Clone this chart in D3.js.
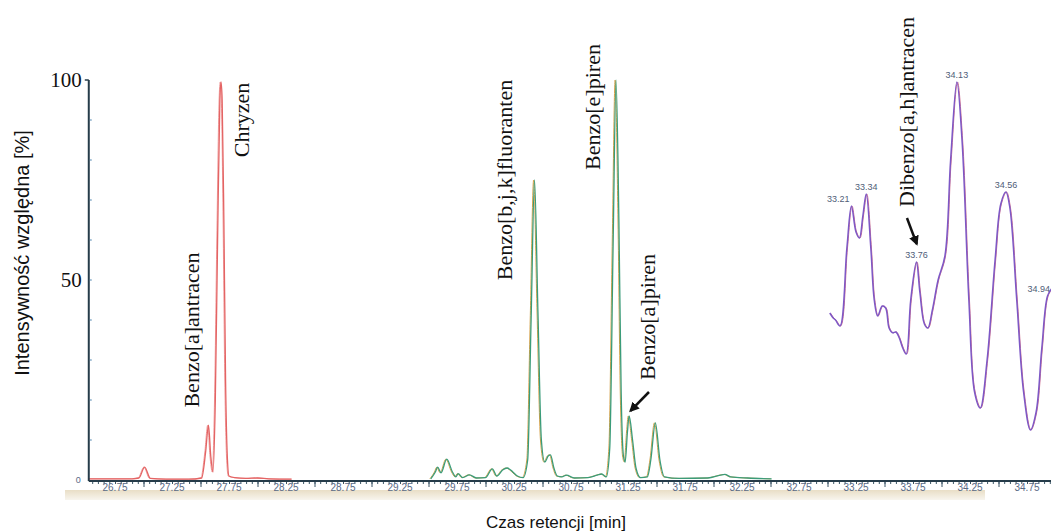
<!DOCTYPE html>
<html>
<head>
<meta charset="utf-8">
<script src="https://cdn.jsdelivr.net/npm/d3@7"></script>
<style>
  body { margin: 0; background: #fff; }
  svg { display: block; }
  .serif { font-family: "Liberation Serif", "Times New Roman", serif; fill: #111; }
  .sans { font-family: "Liberation Sans", Arial, sans-serif; }
</style>
</head>
<body>
<div id="chart"></div>
<script>
const width = 1051;
const height = 532;

// red trace (Benzo[a]antracen, Chryzen)
const redTime = [26.52, 26.9, 26.96, 27.01, 27.06, 27.2, 27.4, 27.51, 27.545, 27.57, 27.59, 27.61,
  27.63, 27.65, 27.67, 27.68, 27.69, 27.705, 27.72, 27.735, 27.75, 27.8, 27.9, 28.0, 28.1, 28.3];
const redValue = [0.3, 0.3, 0.5, 3.2, 0.4, 0.2, 0.2, 0.5, 7, 13.7, 6, 2,
  20, 60, 95, 99.5, 95, 65, 25, 6, 1, 0.6, 0.4, 0.5, 0.3, 0.2];

// green trace (benzofluoranthenes, benzopyrenes)
const greenTime = [29.52, 29.56, 29.58, 29.61, 29.66, 29.71, 29.74, 29.76, 29.8, 29.86, 29.92, 30.0,
  30.06, 30.1, 30.15, 30.19, 30.24, 30.28, 30.33, 30.37, 30.4, 30.43, 30.46, 30.49, 30.52, 30.55,
  30.57, 30.6, 30.63, 30.67, 30.71, 30.78, 30.9, 30.98, 31.02, 31.06, 31.09, 31.12, 31.145, 31.17,
  31.19, 31.21, 31.225, 31.245, 31.26, 31.29, 31.32, 31.36, 31.42, 31.45, 31.49, 31.53, 31.57,
  31.7, 31.95, 32.06, 32.1, 32.15, 32.3, 32.51];
const greenValue = [0.3, 2, 3.2, 1.8, 5.2, 2, 0.8, 1.6, 0.6, 1.3, 0.5, 0.6,
  2.8, 1.0, 2.5, 3.0, 2.0, 1.0, 0.6, 5, 40, 75, 42, 10, 4.5, 6,
  6.3, 3, 1, 0.8, 1.2, 0.5, 0.6, 1.2, 1.5, 0.8, 8, 60, 100, 65,
  22, 6, 4.5, 12, 16, 10, 3, 0.6, 0.8, 5, 14.3, 5, 0.8,
  0.4, 0.5, 1.2, 1.4, 0.8, 0.5, 0.3];

// purple inset (Dibenzo[a,h]antracen region, own relative scale)
const insetTime = [33.02, 33.05, 33.07, 33.11, 33.17, 33.21, 33.25, 33.28, 33.31, 33.34, 33.38, 33.41,
  33.44, 33.48, 33.51, 33.54, 33.57, 33.6, 33.63, 33.66, 33.69, 33.73, 33.78, 33.81, 33.85, 33.88,
  33.92, 33.97, 34.03, 34.08, 34.135, 34.18, 34.24, 34.29, 34.34, 34.4, 34.47, 34.52, 34.565, 34.6,
  34.66, 34.72, 34.78, 34.83, 34.88, 34.93, 34.97];
const insetValue = [41.75, 40.5, 40, 38.5, 58, 68.5, 62, 60.5, 66, 71.5, 58, 45,
  41, 43.5, 43, 38, 36.8, 37, 35.5, 33, 31.5, 45, 54.5, 47, 39, 38,
  42.5, 50, 56, 80, 99.5, 85, 45, 22, 18, 30, 55, 69, 72, 68,
  45, 22, 12.5, 17, 33, 46, 48];

const peakLabels = ["33.21", "33.34", "33.76", "34.13", "34.56", "34.94"];
const peakTime = [33.21, 33.34, 33.78, 34.135, 34.565, 34.93];

const xTickLabels = ["26.75", "27.25", "27.75", "28.25", "28.75", "29.25", "29.75", "30.25",
  "30.75", "31.25", "31.75", "32.25", "32.75", "33.25", "33.75", "34.25", "34.75"];

// compound names, anchored in (time, intensity) units
const compounds = ["Benzo[a]antracen", "Chryzen", "Benzo[b,j,k]fluoranten", "Benzo[e]piren",
  "Benzo[a]piren", "Dibenzo[a,h]antracen"];
const compoundTime = [27.425, 27.864, 30.17, 30.94, 31.425, 33.697];
const compoundLevel = [37.5, 90, 75, 93.25, 40.75, 92];

// arrows [from time, from level, to time, to level]
const arrows = [[31.434, 22, 31.272, 17.3], [33.697, 65.5, 33.783, 59]];

const x = d3.scaleLinear().domain([26.75, 34.75]).range([115, 1027]);
const y = d3.scaleLinear().domain([0, 100]).range([480, 80]);
const x0 = x(26.52);

const svg = d3.select("#chart").append("svg")
  .attr("width", width)
  .attr("height", height);

const defs = svg.append("defs");
const grad = defs.append("linearGradient").attr("id", "band")
  .attr("x1", 0).attr("x2", 0).attr("y1", 0).attr("y2", 1);
grad.append("stop").attr("offset", 0).attr("stop-color", "#e9dec6");
grad.append("stop").attr("offset", 1).attr("stop-color", "#f8f5ee");
defs.append("marker").attr("id", "head")
  .attr("viewBox", "0 0 10 10").attr("refX", 8).attr("refY", 5)
  .attr("markerWidth", 4).attr("markerHeight", 4).attr("orient", "auto")
  .append("path").attr("d", "M0,0L10,5L0,10Z").attr("fill", "#111");

// beige band under the time axis
svg.append("rect")
  .attr("x", 65).attr("y", 490)
  .attr("width", 920).attr("height", 10)
  .attr("fill", "url(#band)");

// traces
const line = (xs, ys) => d3.line()
  .x((d, i) => x(xs[i]))
  .y((d, i) => y(ys[i]))
  .curve(d3.curveMonotoneX)(xs);

svg.append("path").attr("d", line(redTime, redValue))
  .attr("fill", "none").attr("stroke", "#f0a0a0").attr("stroke-width", 1)
  .attr("transform", "translate(-0.8,0)");
svg.append("path").attr("d", line(redTime, redValue))
  .attr("fill", "none").attr("stroke", "#e46464").attr("stroke-width", 1.3);

svg.append("path").attr("d", line(greenTime, greenValue))
  .attr("fill", "none").attr("stroke", "#d6a24a").attr("stroke-width", 1)
  .attr("transform", "translate(-0.9,0)");
svg.append("path").attr("d", line(greenTime, greenValue))
  .attr("fill", "none").attr("stroke", "#3b9c7a").attr("stroke-width", 1.3);

const curvy = d3.line()
  .x((d, i) => x(insetTime[i]))
  .y((d, i) => y(insetValue[i]))
  .curve(d3.curveCatmullRom.alpha(0.5));
svg.append("path").attr("d", curvy(insetTime))
  .attr("fill", "none").attr("stroke", "#d0708e").attr("stroke-width", 1)
  .attr("transform", "translate(0.6,0)");
svg.append("path").attr("d", curvy(insetTime))
  .attr("fill", "none").attr("stroke", "#7d58c6").attr("stroke-width", 1.5);

// peak labels in the inset (first one pushed left, last one kept inside the frame)
const valueAt = t => insetValue[d3.bisectLeft(insetTime, t)];
const last = peakLabels.length - 1;
svg.selectAll("text.peak")
  .data(peakLabels)
  .enter().append("text")
  .attr("class", "peak sans")
  .attr("x", (d, i) => i === 0 ? x(peakTime[i]) - 2 : i === last ? width - 1 : x(peakTime[i]))
  .attr("y", (d, i) => y(valueAt(peakTime[i])) - 4)
  .attr("text-anchor", (d, i) => i === 0 || i === last ? "end" : "middle")
  .attr("font-size", 9)
  .attr("fill", "#4f5d78")
  .text(d => d);

// x axis: minor / major ticks, then labels
const minorTicks = d3.range(531, 700).map(i => i / 20);
const majorTicks = d3.range(54, 70).map(i => i / 2);
const labelTicks = xTickLabels.map(Number);

const axisG = svg.append("g").attr("transform", `translate(0,${y(0) + 1})`);
axisG.append("g").call(d3.axisBottom(x).tickValues(minorTicks).tickSize(3).tickFormat(""))
  .call(g => g.select(".domain").remove());
axisG.append("g").call(d3.axisBottom(x).tickValues(majorTicks).tickSize(6).tickFormat(""))
  .call(g => g.select(".domain").remove());
axisG.selectAll(".tick line").attr("stroke", "#3a5566").attr("stroke-width", 1);
axisG.append("line")
  .attr("x1", x0).attr("x2", width)
  .attr("stroke", "#263c4a").attr("stroke-width", 2);
axisG.selectAll("text.xl")
  .data(labelTicks)
  .enter().append("text")
  .attr("class", "xl sans")
  .attr("x", d => x(d))
  .attr("y", 10)
  .attr("text-anchor", "middle")
  .attr("font-size", 10)
  .attr("fill", "#5a6a86")
  .text((d, i) => xTickLabels[i]);

// y axis
const yAxis = svg.append("g").attr("transform", `translate(${x0},0)`);
yAxis.append("line")
  .attr("y1", y(100)).attr("y2", y(0) + 1)
  .attr("stroke", "#263c4a").attr("stroke-width", 2);
yAxis.selectAll("line.yt")
  .data(d3.range(10, 100, 10))
  .enter().append("line")
  .attr("class", "yt")
  .attr("x1", 1).attr("x2", 3)
  .attr("y1", d => y(d)).attr("y2", d => y(d))
  .attr("stroke", "#4f86b0").attr("stroke-width", 1);
yAxis.append("line")
  .attr("x1", -4).attr("x2", 0)
  .attr("y1", y(100)).attr("y2", y(100))
  .attr("stroke", "#263c4a").attr("stroke-width", 1.5);

svg.selectAll("text.yl")
  .data([100, 50])
  .enter().append("text")
  .attr("class", "yl serif")
  .attr("x", x0 - 7)
  .attr("y", d => y(d) + 7)
  .attr("text-anchor", "end")
  .attr("font-size", 21)
  .text(d => d);
svg.append("text")
  .attr("class", "sans")
  .attr("x", x0 - 8).attr("y", y(0) + 3)
  .attr("text-anchor", "end")
  .attr("font-size", 9)
  .attr("fill", "#5a6a86")
  .text("0");

// axis titles
svg.append("text")
  .attr("class", "sans")
  .attr("transform", "translate(29,253) rotate(-90)")
  .attr("text-anchor", "middle")
  .attr("font-size", 20)
  .attr("fill", "#111")
  .text("Intensywność względna [%]");
svg.append("text")
  .attr("class", "sans")
  .attr("x", 556).attr("y", 528)
  .attr("text-anchor", "middle")
  .attr("font-size", 17)
  .attr("fill", "#111")
  .text("Czas retencji [min]");

// compound names
svg.selectAll("text.cmp")
  .data(compounds)
  .enter().append("text")
  .attr("class", "cmp serif")
  .attr("transform", (d, i) => `translate(${x(compoundTime[i])},${y(compoundLevel[i])}) rotate(-90)`)
  .attr("text-anchor", "middle")
  .attr("dominant-baseline", "central")
  .attr("font-size", 22)
  .text(d => d);

// arrows
svg.selectAll("line.arrow")
  .data(arrows)
  .enter().append("line")
  .attr("class", "arrow")
  .attr("x1", d => x(d[0])).attr("y1", d => y(d[1]))
  .attr("x2", d => x(d[2])).attr("y2", d => y(d[3]))
  .attr("stroke", "#111").attr("stroke-width", 2.5)
  .attr("marker-end", "url(#head)");
</script>
</body>
</html>
